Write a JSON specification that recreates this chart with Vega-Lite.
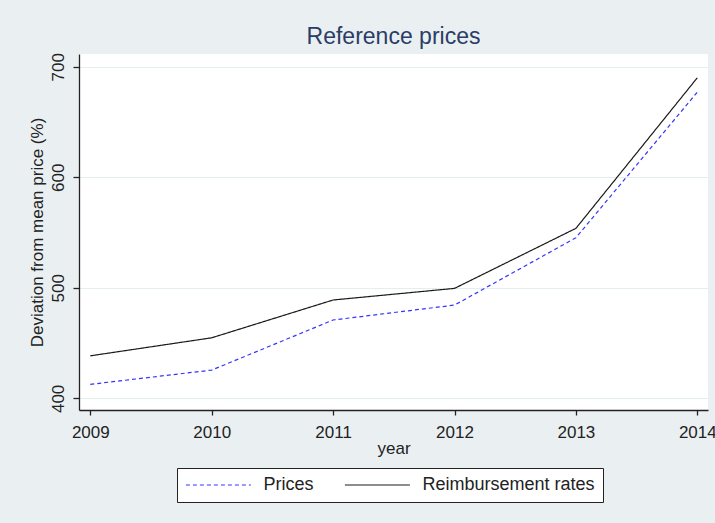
{
  "$schema": "https://vega.github.io/schema/vega-lite/v6.json",
  "width": 629,
  "height": 356,
  "autosize": {"type": "none"},
  "padding": {"left": 79, "top": 54, "right": 7, "bottom": 113},
  "background": "#EAF0F2",
  "view": {"fill": "white", "stroke": null},
  "title": {
    "text": "Reference prices",
    "fontSize": 23,
    "font": "Liberation Sans",
    "fontWeight": "normal",
    "color": "#2A3D66",
    "offset": 4,
    "anchor": "middle",
    "frame": "group"
  },
  "data": {
    "values": [
      {"year": 2009, "series": "Prices", "value": 412.7},
      {"year": 2010, "series": "Prices", "value": 425.6},
      {"year": 2011, "series": "Prices", "value": 470.9},
      {"year": 2012, "series": "Prices", "value": 484.4},
      {"year": 2013, "series": "Prices", "value": 545.3},
      {"year": 2014, "series": "Prices", "value": 677},
      {"year": 2009, "series": "Reimbursement rates", "value": 438.5},
      {"year": 2010, "series": "Reimbursement rates", "value": 454.8},
      {"year": 2011, "series": "Reimbursement rates", "value": 489},
      {"year": 2012, "series": "Reimbursement rates", "value": 499.5},
      {"year": 2013, "series": "Reimbursement rates", "value": 553.8},
      {"year": 2014, "series": "Reimbursement rates", "value": 690}
    ]
  },
  "mark": {"type": "line", "strokeWidth": 1.2},
  "encoding": {
    "x": {
      "field": "year",
      "type": "quantitative",
      "scale": {"domain": [2008.907, 2014.088], "nice": false, "zero": false},
      "axis": {
        "values": [2009, 2010, 2011, 2012, 2013, 2014],
        "format": "d",
        "title": "year",
        "grid": false,
        "tickSize": 5,
        "labelPadding": 9,
        "titlePadding": 0
      }
    },
    "y": {
      "field": "value",
      "type": "quantitative",
      "scale": {"domain": [389.5, 711.5], "nice": false, "zero": false},
      "axis": {
        "values": [400, 500, 600, 700],
        "title": "Deviation from mean price (%)",
        "grid": true,
        "gridColor": "#E4EDEF",
        "gridWidth": 1.2,
        "tickSize": 6,
        "labelAngle": -90,
        "labelAlign": "center",
        "labelBaseline": "bottom",
        "labelPadding": 6,
        "titlePadding": 3
      }
    },
    "color": {
      "field": "series",
      "type": "nominal",
      "scale": {"domain": ["Prices", "Reimbursement rates"], "range": ["#3535FF", "#1A1A1A"]},
      "legend": {
        "orient": "none",
        "legendX": 98,
        "legendY": 414,
        "direction": "horizontal",
        "title": null
      }
    },
    "strokeDash": {
      "field": "series",
      "type": "nominal",
      "scale": {"domain": ["Prices", "Reimbursement rates"], "range": [[4, 3], [1, 0]]},
      "legend": {
        "orient": "none",
        "legendX": 98,
        "legendY": 414,
        "direction": "horizontal",
        "title": null
      }
    }
  },
  "config": {
    "font": "Liberation Sans",
    "axis": {
      "labelFont": "Liberation Sans",
      "labelFontSize": 17,
      "labelColor": "#222222",
      "titleFont": "Liberation Sans",
      "titleFontSize": 17,
      "titleFontWeight": "normal",
      "titleColor": "#222222",
      "domainColor": "#222222",
      "domainWidth": 1.3,
      "tickColor": "#222222",
      "tickWidth": 1.3
    },
    "legend": {
      "symbolType": "M-4,0L4,0",
      "symbolSize": 264,
      "symbolStrokeWidth": 1.2,
      "symbolOffset": 24.4,
      "labelFont": "Liberation Sans",
      "labelFontSize": 18,
      "labelColor": "#222222",
      "labelOffset": 36,
      "labelLimit": 0,
      "columnPadding": 28,
      "padding": 8,
      "fillColor": "white",
      "strokeColor": "#222222"
    }
  }
}
